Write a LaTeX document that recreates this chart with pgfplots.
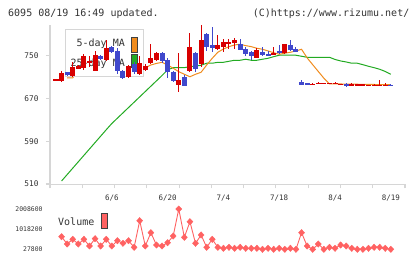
\documentclass[border=0pt]{standalone}
\usepackage{fontspec}
\setmainfont{DejaVu Sans Mono}
\usepackage{pgfplots}
\pgfplotsset{compat=1.18}
\usepackage{pgfplotstable}

\definecolor{upred}{HTML}{D80000}
\definecolor{dnblue}{HTML}{4048CC}
\definecolor{maorange}{HTML}{F08C1E}
\definecolor{magreen}{HTML}{22AA22}
\definecolor{volred}{HTML}{FF6262}
\definecolor{axgray}{HTML}{D6D6D6}
\definecolor{txt}{HTML}{333333}

% candles: index, open, high, low, close
\pgfplotstableread{
i o h l c
0 705 705.5 704.5 705.5
1 703 721 702 718
3 712 738 711 730
4 726 733 725 732
5 727 753 723 749
6 739 750 730 739.5
7 722 760 721 752
9 742 780 741 765
13 710 733 708 731
15 717 749 714 736
16 724 734 722 732
17 736 772 734 746
18 742 757 740 755
22 695 755 683 705
24 721 793 719 766
26 735 808 730 780
29 763 789 761 770
30 766 781 758 776
31 772 781 763 777
32 774 784 763 780
36 747 765 746 761
39 752 767 751 755
41 755 773 754 772
46 696 698.5 695.5 698
47 698 702 698 700
48 698 700 698 700
49 698 700 698 700
50 698 700.5 698 700
51 696 698 696 698
53 695.5 700 695.5 697
54 694.5 697.4 694.3 697.4
55 694.5 697.4 694.3 697.4
56 694.3 695.6 694.3 695.6
57 694.3 697.4 694.3 695.6
58 694.3 705 694.3 695.6
59 694.3 698.7 694.3 695.6
}\upt

\pgfplotstableread{
i o h l c
2 719 720 713 714
8 749 751 743 744
10 767 769 756 757
11 759 764 717 721
12 722 723 707 708
14 734 738 716 719
19 756 758 737 740
20 742 746 709 719
21 720 722 701 703
23 711 714 693 694
25 755 757 720 726
27 791 793 760 767
28 770 805 757 765
33 772 782 761 761
34 763 767 749 753
35 758 760 742 749
37 757 767 749 752
38 753 759 749 751
40 759 771 754 755
42 771 780 759 761
43 763 766 758 758
44 701 705 695 696
45 698.5 699 695.5 695.8
52 698 698.5 692.5 694
60 696 697.4 694.3 694.5
}\dnt

\pgfplotstableread{
i v
2 709
3 709
4 720
5 728
6 733
7 740
8 743
9 749
10 751
11 748
12 739
13 736
14 727
15 725
16 728
17 733
18 736
19 738
20 733
21 727
22 720.5
23 715.6
24 711
25 715.6
26 719.4
27 733
28 745.6
29 756.9
30 763
31 767.4
32 770.6
33 771.9
34 769.3
35 767.4
36 764.4
37 762.5
38 759.3
39 756.1
40 753.1
41 755
42 756.9
43 759.3
44 762.5
45 746.4
46 733.6
47 720.9
48 708.3
49 697.5
50 697.5
51 697.5
52 697
53 697
54 697
55 696.5
56 696.5
57 696.5
58 696
59 696
60 696
}\maf

\pgfplotstableread{
i v
1 515.6
2 527.6
3 539.6
4 551.6
5 563.6
6 575.6
7 587.6
8 599.6
9 611.6
10 623.3
11 633.3
12 643.3
13 653.3
14 663.3
15 673.3
16 683.3
17 693.3
18 703.3
19 713.3
20 724
21 728
22 728
23 728
24 730
25 731
26 732.5
27 736.3
28 736.3
29 738.1
30 738.1
31 740
32 741.9
33 741.9
34 743.8
35 741.9
36 741.9
37 743.8
38 745.6
39 748.6
40 751.3
41 751.3
42 751.3
43 751.3
44 749.4
45 747.5
46 747.5
47 747.5
48 747.5
49 747.5
50 743.4
51 740.6
52 738.7
53 736.3
54 736.3
55 733.6
56 730.6
57 728
58 725
59 720.9
60 715.6
}\mat

\pgfplotstableread{
i v
1 647000
2 288000
3 519000
4 288000
5 519000
6 190000
7 549000
8 190000
9 519000
10 190000
11 450000
12 323000
13 450000
14 126000
15 1434000
16 190000
17 844000
18 239000
19 190000
20 352000
21 681000
22 2008600
23 618000
24 1384000
25 323000
26 731000
27 126000
28 519000
29 126000
30 77000
31 126000
32 77000
33 126000
34 77000
35 77000
36 77000
37 27800
38 77000
39 27800
40 77000
41 27800
42 77000
43 27800
44 844000
45 190000
46 27800
47 288000
48 27800
49 126000
50 77000
51 239000
52 190000
53 77000
54 27800
55 27800
56 77000
57 126000
58 126000
59 77000
60 27800
}\volt

\begin{document}
\begin{tikzpicture}[font=\fontsize{10}{12}\selectfont, text=txt]
\path[use as bounding box] (0pt,0pt) rectangle (420pt,259pt);

\node[anchor=base west, inner sep=0] at (8pt,242.3pt) {6095 08/19 16:49 updated.};
\node[anchor=base east, inner sep=0] at (409.5pt,242.3pt) {(C)https://www.rizumu.net/};

% price frame and moving averages
\begin{axis}[
    at={(50pt,74.5pt)}, anchor=south west, scale only axis,
    width=355pt, height=159.5pt,
    xmin=-1.075, xmax=62.54, ymin=509, ymax=808,
    axis x line*=bottom, axis y line*=left,
    axis line style={axgray, line width=1.3pt},
    tick style={axgray, line width=1.1pt},
    major tick length=4pt, tick align=outside,
    xtick={-1.075,4.708,10.491,16.275,22.058,27.841,33.624,39.407,45.191,50.974,56.757,62.54},
    xticklabels={},
    ytick={510,590,670,750},
    yticklabel style={font=\fontsize{7.8}{8}\selectfont, text=txt, xshift=-4pt},
    /pgf/number format/assume math mode=true,
    extra x ticks={10,20,30,40,50,60},
    extra x tick labels={6/6,6/20,7/4,7/18,8/4,8/19},
    extra x tick style={major tick length=0pt,
        tick label style={font=\fontsize{7.5}{8}\selectfont, text=txt, yshift=-7pt}},
]
\addplot[magreen, line width=1pt] table[x=i, y=v] {\mat};
\addplot[maorange, line width=1pt] table[x=i, y=v] {\maf};
\end{axis}

% legend box, under the candles
\draw[axgray, line width=1pt, fill=white] (65pt,229pt) rectangle (143pt,182pt);
\node[anchor=base east, inner sep=0] at (125pt,212.5pt) {5-day MA};
\node[anchor=base east, inner sep=0] at (125pt,192.3pt) {25-day MA};
\draw[fill=maorange, draw=black!75, line width=0.9pt] (131pt,221.5pt) rectangle (137.3pt,207pt);
\draw[fill=magreen, draw=black!75, line width=0.9pt] (131pt,204.7pt) rectangle (137.3pt,192pt);

% candles
\begin{axis}[
    at={(50pt,74.5pt)}, anchor=south west, scale only axis,
    width=355pt, height=159.5pt,
    xmin=-1.075, xmax=62.54, ymin=509, ymax=808,
    hide axis, clip=false,
]
\addplot[draw=none, mark=none, error bars/.cd, y dir=both, y explicit, error mark=none,
    error bar style={draw=upred, line width=1pt}]
    table[x=i, y expr={0.5*(\thisrow{h}+\thisrow{l})}, y error expr={0.5*(\thisrow{h}-\thisrow{l})}] {\upt};
\addplot[draw=none, mark=none, error bars/.cd, y dir=both, y explicit, error mark=none,
    error bar style={draw=dnblue, line width=1pt}]
    table[x=i, y expr={0.5*(\thisrow{h}+\thisrow{l})}, y error expr={0.5*(\thisrow{h}-\thisrow{l})}] {\dnt};
\addplot[draw=none, mark=none, error bars/.cd, y dir=both, y explicit, error mark=none,
    error bar style={draw=upred, line width=5pt}]
    table[x=i, y expr={0.5*(\thisrow{o}+\thisrow{c})}, y error expr={max(0.5*abs(\thisrow{c}-\thisrow{o}),0.8)}] {\upt};
\addplot[draw=none, mark=none, error bars/.cd, y dir=both, y explicit, error mark=none,
    error bar style={draw=dnblue, line width=5pt}]
    table[x=i, y expr={0.5*(\thisrow{o}+\thisrow{c})}, y error expr={max(0.5*abs(\thisrow{c}-\thisrow{o}),0.8)}] {\dnt};
\end{axis}

% volume
\node[anchor=base west, inner sep=0] at (58pt,33pt) {Volume};
\draw[fill=volred, draw=black!75, line width=0.9pt] (101pt,46pt) rectangle (107pt,31pt);
\begin{axis}[
    at={(50pt,6pt)}, anchor=south west, scale only axis,
    width=355pt, height=47pt,
    xmin=-1.075, xmax=62.54, ymin=-154059, ymax=2156053,
    axis line style={draw=none}, major tick length=0pt,
    xtick=\empty, scaled y ticks=false,
    ytick={27800,1018200,2008600},
    yticklabels={27800,1018200,2008600},
    yticklabel style={font=\fontsize{6.4}{7}\selectfont, text=txt, xshift=-4pt},
]
\addplot[volred, line width=0.9pt, mark=none] table[x=i, y=v] {\volt};
\addplot[volred, only marks, mark=diamond*, mark size=3.2pt, mark options={xscale=1.25}]
    table[x=i, y=v, skip first n=1] {\volt};
\end{axis}
\end{tikzpicture}
\end{document}
